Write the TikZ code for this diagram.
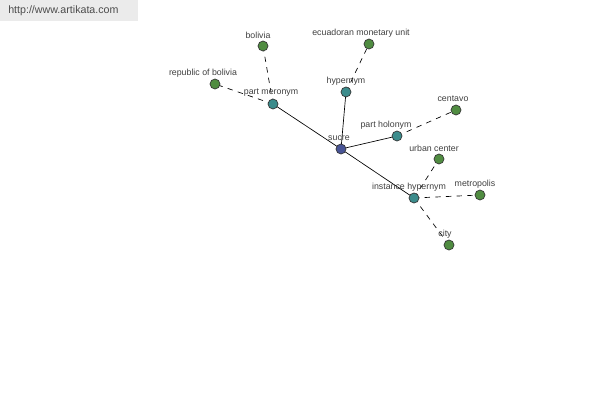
\documentclass[tikz,border=0pt]{standalone}
\usepackage{fontspec}
\setmainfont{Liberation Sans}
\begin{document}
\begin{tikzpicture}[x=0.75pt,y=-0.75pt,
  dot/.style={circle,draw=black!80,line width=0.5pt,minimum size=7.5pt,inner sep=0pt},
  hub/.style={dot,fill=blue!35!black!60!cyan!0,fill={rgb,255:red,72;green,84;blue,150}},
  rel/.style={dot,fill={rgb,255:red,60;green,140;blue,140}},
  leaf/.style={dot,fill={rgb,255:red,80;green,140;blue,65}},
  lab/.style={font=\fontsize{6.6pt}{7pt}\selectfont,text=black!75,inner sep=0pt},
  solidedge/.style={draw=black,line width=0.5pt},
  dashededge/.style={draw=black,line width=0.5pt,dashed,dash pattern=on 4pt off 4pt}]
\useasboundingbox (0,0) rectangle (600,400);
\fill[white] (0,0) rectangle (600,400);
\fill[black!8] (0,0) rectangle (138,21);
\node[anchor=west,font=\fontsize{8pt}{9pt}\selectfont,text=black!70,inner sep=0pt] (url) at (8,11) {http://www.artikata.com};
% nodes
\coordinate (psucre) at (341,149);
\coordinate (ppm) at (273,104);
\coordinate (phyp) at (346,92);
\coordinate (pph) at (397,136);
\coordinate (pih) at (414,198);
\coordinate (pbol) at (263,46);
\coordinate (prob) at (215,84);
\coordinate (pemu) at (369,44);
\coordinate (pcen) at (456,110);
\coordinate (purb) at (439,159);
\coordinate (pmet) at (480,195);
\coordinate (pcity) at (449,245);
% edges
\draw[solidedge] (psucre) -- (ppm);
\draw[solidedge] (psucre) -- (phyp);
\draw[solidedge] (psucre) -- (pph);
\draw[solidedge] (psucre) -- (pih);
\draw[dashededge] (ppm) -- (pbol);
\draw[dashededge] (ppm) -- (prob);
\draw[dashededge] (phyp) -- (pemu);
\draw[dashededge] (pph) -- (pcen);
\draw[dashededge] (pih) -- (purb);
\draw[dashededge] (pih) -- (pmet);
\draw[dashededge] (pih) -- (pcity);
% labels
\node[lab] (lsucre) at (339,138) {sucre};
\node[lab] (lpm) at (271,93) {part meronym};
\node[lab] (lhyp) at (346,81) {hypernym};
\node[lab] (lph) at (386,125) {part holonym};
\node[lab] (lih) at (409,187) {instance hypernym};
\node[lab] (lbol) at (258,35) {bolivia};
\node[lab] (lrob) at (203,73) {republic of bolivia};
\node[lab] (lemu) at (361,33) {ecuadoran monetary unit};
\node[lab] (lcen) at (453,99) {centavo};
\node[lab] (lurb) at (434,148) {urban center};
\node[lab] (lmet) at (475,184) {metropolis};
\node[lab] (lcity) at (445,234) {city};
% dots
\node[hub] (sucre) at (psucre) {};
\node[rel] (pm) at (ppm) {};
\node[rel] (hyp) at (phyp) {};
\node[rel] (ph) at (pph) {};
\node[rel] (ih) at (pih) {};
\node[leaf] (bol) at (pbol) {};
\node[leaf] (rob) at (prob) {};
\node[leaf] (emu) at (pemu) {};
\node[leaf] (cen) at (pcen) {};
\node[leaf] (urb) at (purb) {};
\node[leaf] (met) at (pmet) {};
\node[leaf] (city) at (pcity) {};
\end{tikzpicture}
\end{document}
